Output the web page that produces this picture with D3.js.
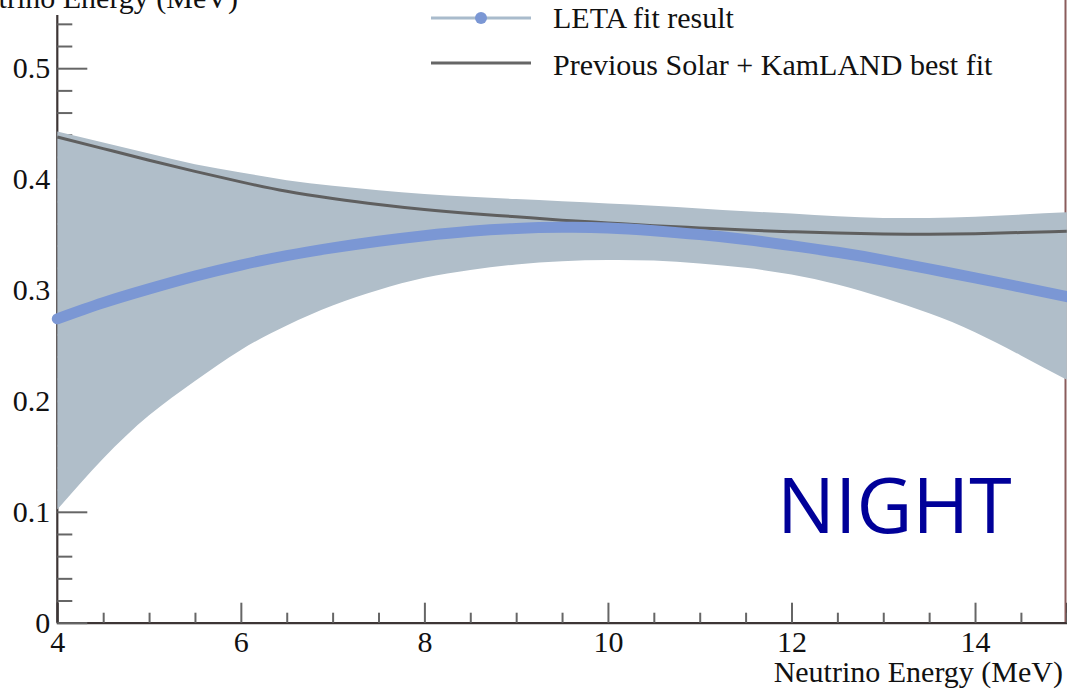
<!DOCTYPE html>
<html>
<head>
<meta charset="utf-8">
<script src="https://cdn.jsdelivr.net/npm/d3@7"></script>
<style>
html,body{margin:0;padding:0;background:#fff;overflow:hidden;}
svg{display:block;}
</style>
</head>
<body>
<svg id="chart" width="1067" height="691"></svg>
<script>
// ---- data ----
const energy      = [4, 4.5, 5, 5.5, 6, 6.5, 7, 7.5, 8, 8.5, 9, 9.5, 10, 10.5, 11, 11.5, 12, 12.5, 13, 13.5, 14, 14.5, 15];
const letaFit     = [0.274, 0.2885, 0.301, 0.3125, 0.3225, 0.331, 0.338, 0.344, 0.349, 0.353, 0.3555, 0.3565, 0.356, 0.3535, 0.3500, 0.3455, 0.340, 0.334, 0.327, 0.319, 0.311, 0.3025, 0.294];
const bandUpper   = [0.443, 0.433, 0.423, 0.4135, 0.406, 0.399, 0.394, 0.390, 0.3865, 0.384, 0.382, 0.380, 0.378, 0.376, 0.3735, 0.371, 0.369, 0.3665, 0.365, 0.365, 0.366, 0.368, 0.370];
const bandLower   = [0.102, 0.148, 0.187, 0.218, 0.246, 0.268, 0.286, 0.300, 0.311, 0.318, 0.323, 0.326, 0.327, 0.3265, 0.324, 0.320, 0.314, 0.305, 0.293, 0.279, 0.262, 0.241, 0.219];
const prevBestFit = [0.438, 0.4275, 0.417, 0.407, 0.3975, 0.389, 0.3825, 0.377, 0.3725, 0.369, 0.366, 0.363, 0.3605, 0.358, 0.356, 0.354, 0.3525, 0.3513, 0.3505, 0.3503, 0.3508, 0.3518, 0.353];
const xMajorTicks = [4, 6, 8, 10, 12, 14];
const yMajorTicks = [0, 0.1, 0.2, 0.3, 0.4, 0.5];
const legendLabels = ["LETA fit result", "Previous Solar + KamLAND best fit"];
const axisTitle = "Neutrino Energy (MeV)";
const panelLabel = "NIGHT";

// ---- layout ----
const svg = d3.select("#chart");
const x = d3.scaleLinear().domain([4, 15]).range([57.3, 1066.8]);
const y = d3.scaleLinear().domain([0, 0.55]).range([622.7, 12.75]);
const serif = "'Liberation Serif','Times New Roman',serif";
const fs = 30;

const xMinor = d3.range(4, 15.01, 0.5).filter(v => !xMajorTicks.includes(v));
const yMinor = d3.range(0, 28).map(i => +(i * 0.02).toFixed(2)).filter(v => Math.round(v*100) % 10 !== 0);

// frame (right border)
svg.append("line").attr("x1", 1065.5).attr("x2", 1065.5).attr("y1", 0).attr("y2", 622.7)
  .attr("stroke", "#8a5c5c").attr("stroke-width", 2);

// x axis
const gx = svg.append("g").attr("transform", `translate(0,${y(0)})`);
gx.call(d3.axisBottom(x).tickValues(xMajorTicks).tickSize(-20).tickPadding(8).tickFormat(d3.format("d")));
gx.select(".domain").attr("stroke", "#3d3535").attr("stroke-width", 2.2);
const gxm = svg.append("g").attr("transform", `translate(0,${y(0)})`);
gxm.call(d3.axisBottom(x).tickValues(xMinor).tickSize(-10).tickFormat(""));
gxm.select(".domain").remove();

// y axis
const gy = svg.append("g").attr("transform", `translate(${x(4)},0)`);
gy.call(d3.axisLeft(y).tickValues(yMajorTicks).tickSize(-30).tickPadding(7)
  .tickFormat(d => d === 0 ? "0" : d.toFixed(1)));
gy.select(".domain").attr("d", `M0,15V${y(0)}`).attr("stroke", "#3d3535").attr("stroke-width", 2.2);
const gym = svg.append("g").attr("transform", `translate(${x(4)},0)`);
gym.call(d3.axisLeft(y).tickValues(yMinor).tickSize(-15).tickFormat(""));
gym.select(".domain").remove();

svg.selectAll(".tick line").attr("stroke", "#666").attr("stroke-width", 2);
svg.selectAll(".tick text").attr("font-family", serif).attr("font-size", fs).attr("fill", "#111");

// axis titles
svg.append("text").attr("x", 1063).attr("y", 682).attr("text-anchor", "end")
  .attr("font-family", serif).attr("font-size", fs).attr("fill", "#111").text(axisTitle);
svg.append("text").attr("x", 238).attr("y", 8).attr("text-anchor", "end")
  .attr("font-family", serif).attr("font-size", fs).attr("fill", "#111").text(axisTitle);

// band
const band = energy.map((e, i) => ({e, lo: bandLower[i], hi: bandUpper[i]}));
svg.append("path").datum(band)
  .attr("d", d3.area().x(d => x(d.e)).y0(d => y(d.lo)).y1(d => y(d.hi)).curve(d3.curveNatural))
  .attr("fill", "#b0bec9");

// previous best fit
svg.append("path").datum(energy.map((e, i) => ({e, v: prevBestFit[i]})))
  .attr("d", d3.line().x(d => x(d.e)).y(d => y(d.v)).curve(d3.curveNatural))
  .attr("fill", "none").attr("stroke", "#5f5f5f").attr("stroke-width", 3);

// LETA fit
svg.append("path").datum(energy.map((e, i) => ({e, v: letaFit[i]})))
  .attr("d", d3.line().x(d => x(d.e)).y(d => y(d.v)).curve(d3.curveNatural))
  .attr("fill", "none").attr("stroke", "#7b97d4").attr("stroke-width", 11).attr("stroke-linecap", "round");

// legend
const lg = svg.append("g");
lg.append("line").attr("x1", 431).attr("x2", 531).attr("y1", 18).attr("y2", 18).attr("stroke", "#a9bbcc").attr("stroke-width", 3);
lg.append("circle").attr("cx", 481).attr("cy", 18).attr("r", 6).attr("fill", "#7b97d4");
lg.append("line").attr("x1", 431).attr("x2", 531).attr("y1", 63).attr("y2", 63).attr("stroke", "#666").attr("stroke-width", 3);
lg.selectAll("text.lab").data(legendLabels).join("text").attr("class", "lab")
  .attr("x", 553).attr("y", (d, i) => 28 + i * 47)
  .attr("font-family", serif).attr("font-size", fs).attr("fill", "#111").text(d => d);

// NIGHT label
svg.append("text").attr("x", 777).attr("y", 533).attr("font-family", "'Open Sans',sans-serif")
  .attr("font-size", 77).attr("fill", "#000099").text(panelLabel);
</script>
</body>
</html>
